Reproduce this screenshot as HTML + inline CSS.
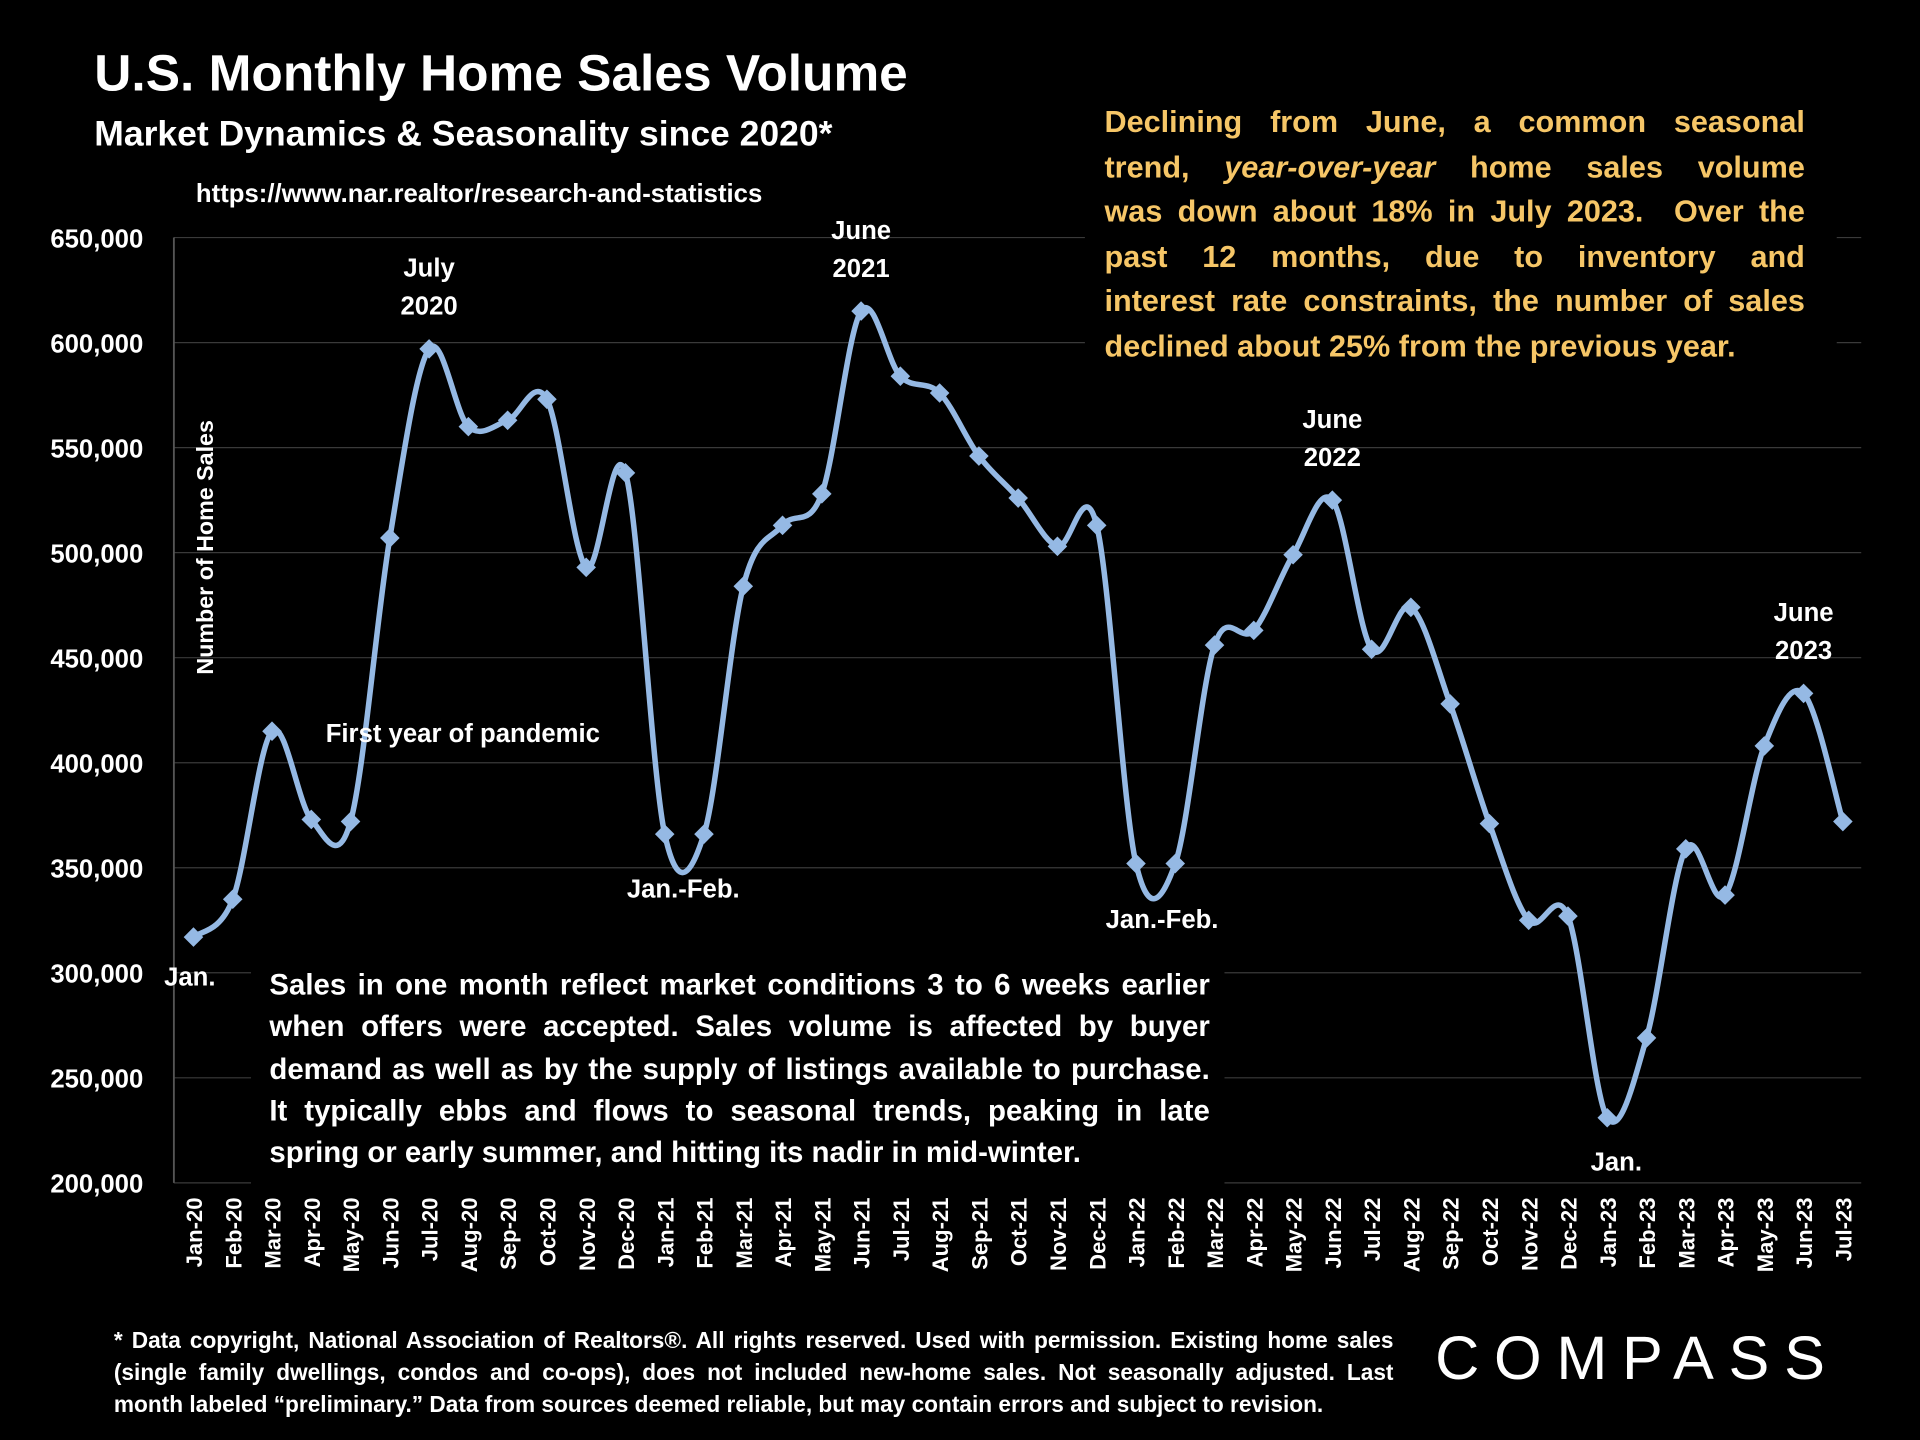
<!DOCTYPE html>
<html><head><meta charset="utf-8"><style>
html,body{margin:0;padding:0;background:#000;width:1920px;height:1440px;overflow:hidden}
#root{position:absolute;left:0;top:0;width:1568px;height:1176px;transform:scale(1.22449);transform-origin:0 0;font-family:"Liberation Sans",sans-serif;color:#fff;font-weight:bold}
.abs{position:absolute}
.j{text-align:justify;text-align-last:justify;white-space:nowrap}
.l{text-align:left;white-space:nowrap}
svg text{font-family:"Liberation Sans",sans-serif;font-weight:bold;fill:#fff}
</style></head><body>
<div id="root">
<svg id="chart" width="1568" height="1176" class="abs" style="left:0;top:0"></svg>
<div class="abs" style="left:77px;top:36px;font-size:42px">U.S. Monthly Home Sales Volume</div>
<div class="abs" style="left:77px;top:94px;font-size:29px">Market Dynamics &amp; Seasonality since 2020*</div>
<div class="abs" style="left:160px;top:147px;font-size:21px">https://www.nar.realtor/research-and-statistics</div>
<div class="abs" style="left:886px;top:80px;width:572px;padding:2px 26px 8px 16px;background:#000;color:#f6c667;font-size:25px;line-height:36.5px">
<div class="j">Declining from June, a common seasonal</div>
<div class="j">trend, <i>year-over-year</i> home sales volume</div>
<div class="j">was down about 18% in July 2023.&nbsp; Over the</div>
<div class="j">past 12 months, due to inventory and</div>
<div class="j">interest rate constraints, the number of sales</div>
<div class="l">declined about 25% from the previous year.</div>
</div>
<div class="abs" style="left:205px;top:786px;width:768px;padding:2px 12px 8px 15px;background:#000;font-size:24px;line-height:34.3px">
<div class="j">Sales in one month reflect market conditions 3 to 6 weeks earlier</div>
<div class="j">when offers were accepted. Sales volume is affected by buyer</div>
<div class="j">demand as well as by the supply of listings available to purchase.</div>
<div class="j">It typically ebbs and flows to seasonal trends, peaking in late</div>
<div class="l">spring or early summer, and hitting its nadir in mid-winter.</div>
</div>
<div class="abs" style="left:93px;top:1082px;width:1045px;font-size:18.5px;line-height:26px">
<div class="j">* Data copyright, National Association of Realtors®. All rights reserved. Used with permission. Existing home sales</div>
<div class="j">(single family dwellings, condos and co-ops), does not included new-home sales. Not seasonally adjusted. Last</div>
<div class="l">month labeled “preliminary.” Data from sources deemed reliable, but may contain errors and subject to revision.</div>
</div>
<div class="abs" style="left:1172px;top:1080px;font-size:50px;font-weight:normal;letter-spacing:12px">COMPASS</div>
</div>
<script>
const categories=["Jan-20","Feb-20","Mar-20","Apr-20","May-20","Jun-20","Jul-20","Aug-20","Sep-20","Oct-20","Nov-20","Dec-20","Jan-21","Feb-21","Mar-21","Apr-21","May-21","Jun-21","Jul-21","Aug-21","Sep-21","Oct-21","Nov-21","Dec-21","Jan-22","Feb-22","Mar-22","Apr-22","May-22","Jun-22","Jul-22","Aug-22","Sep-22","Oct-22","Nov-22","Dec-22","Jan-23","Feb-23","Mar-23","Apr-23","May-23","Jun-23","Jul-23"];
const sales=[317000,335000,415000,373000,372000,507000,597000,560000,563000,573000,493000,538000,366000,366000,484000,513000,528000,615000,584000,576000,546000,526000,503000,513000,352000,352000,456000,463000,499000,525000,454000,474000,428000,371000,325000,327000,231000,269000,359000,337000,408000,433000,372000];
const yTicks=[200000,250000,300000,350000,400000,450000,500000,550000,600000,650000];
const annotations=[["Jan.",0,-1,155,805],["July|2020",6,0,0,0],["June|2021",17,0,0,0],["June|2022",29,0,0,0],["June|2023",41,0,0,0],["Jan.-Feb.",12,0,558,733],["Jan.-Feb.",24,0,949,758],["Jan.",36,0,1320,956],["First year of pandemic",0,0,378,606]];
const svg=document.getElementById('chart');const NS="http://www.w3.org/2000/svg";
const X0=158,X1=1505,YT=194,YB=966,YMIN=200000,YMAX=650000;
const x=i=>X0+(X1-X0)*i/(categories.length-1);
const y=v=>YB-(v-YMIN)/(YMAX-YMIN)*(YB-YT);
function mk(t,a,p){const e=document.createElementNS(NS,t);for(const k in a)e.setAttribute(k,a[k]);(p||svg).appendChild(e);return e;}
yTicks.forEach(v=>{
 const g=mk('line',{x1:142,x2:1520,y1:y(v),y2:y(v),stroke:'#3a3a3a','stroke-width':1});
 
 
 const t=mk('text',{x:117,y:y(v)+8,'text-anchor':'end','font-size':21});t.textContent=v.toLocaleString('en-US');
 
 
});
const ax=mk('line',{x1:142,x2:142,y1:194,y2:966,stroke:'#555','stroke-width':1.5});


const yt=mk('text',{x:0,y:0,'font-size':19,'text-anchor':'middle',transform:'translate(174,447) rotate(-90)'});yt.textContent='Number of Home Sales';


categories.forEach((c,i)=>{
 const t=mk('text',{x:0,y:0,'font-size':18,'text-anchor':'end',transform:`translate(${x(i)+7},978) rotate(-90)`});t.textContent=c;
 
 
});
const P=sales.map((v,i)=>[x(i),y(v)]);
let d=`M${P[0][0]},${P[0][1]}`;
for(let i=0;i<P.length-1;i++){const p0=P[i-1]||P[i],p1=P[i],p2=P[i+1],p3=P[i+2]||p2;const k=6;
 d+=` C${p1[0]+(p2[0]-p0[0])/k},${p1[1]+(p2[1]-p0[1])/k} ${p2[0]-(p3[0]-p1[0])/k},${p2[1]-(p3[1]-p1[1])/k} ${p2[0]},${p2[1]}`;}
const line=mk('path',{d,fill:'none',stroke:'#95b9e4','stroke-width':4.5});


P.forEach(([px,py],i)=>{const s=8;
 const m=mk('polygon',{points:`${px},${py-s} ${px+s},${py} ${px},${py+s} ${px-s},${py}`,fill:'#95b9e4'});
 
 
});
annotations.forEach(([txt,i,_,ax_,ay])=>{
 const lines=txt.split('|');let cx=ax_,cy=ay;
 if(lines.length>1){cx=x(i);cy=y(sales[i])-28;}
 lines.forEach((l,k)=>{const t=mk('text',{x:cx,y:cy+(k-lines.length+1)*31,'text-anchor':'middle','font-size':21});t.textContent=l;
  
  });
});
</script>
</body></html>
